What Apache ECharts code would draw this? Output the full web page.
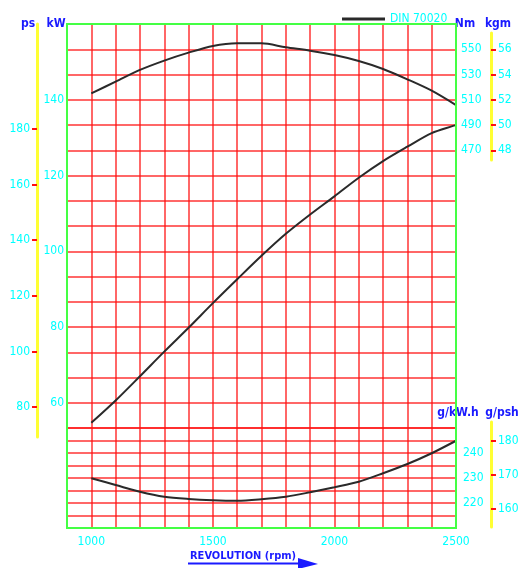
<!DOCTYPE html>
<html>
<head>
<meta charset="utf-8">
<script src="https://cdn.jsdelivr.net/npm/echarts@6/dist/echarts.min.js"></script>
<style>
html, body { margin: 0; padding: 0; background: #fff; }
#chart { width: 526px; height: 568px; }
</style>
</head>
<body>
<div id="chart"></div>
<script>
// engine speed (rpm) and the three DIN 70020 curves
var rpm = [1000, 1100, 1200, 1300, 1400, 1500, 1600, 1700, 1800, 1900, 2000, 2100, 2200, 2300, 2400, 2500];
var torqueNm = [515.1, 524.3, 533.6, 541.0, 547.3, 552.6, 554.7, 554.7, 551.5, 548.9, 545.4, 540.7, 534.4, 526.2, 517.2, 505.8];
var powerKw = [54.7, 60.6, 67.0, 73.5, 79.8, 86.3, 92.6, 98.8, 104.6, 109.7, 114.5, 119.4, 123.8, 127.6, 131.2, 133.3];
var sfcGkwh = [229.9, 227.2, 224.5, 222.5, 221.6, 221.1, 220.9, 221.5, 222.5, 224.3, 226.3, 228.5, 231.9, 235.6, 239.9, 244.9];

// tick labels
var rpmLabels = [1000, 1500, 2000, 2500];
var kwLabels = [60, 80, 100, 120, 140];
var psLabels = [80, 100, 120, 140, 160, 180];
var nmLabels = [470, 490, 510, 530, 550];
var kgmLabels = [48, 50, 52, 54, 56];
var sfcLabels = [220, 230, 240];
var gpshLabels = [160, 170, 180];

var PS_PER_KW = 1.36;

// sheet layout (px)
var L = 67, R = 456, TOP = 24, MID = 428, BOT = 528;
var CYAN = '#00ffff', BLUE = '#1a1aff', RED = '#ff1010', YELLOW = '#ffff33', GREEN = '#44ff44';
var NARROW = '"DejaVu Sans Condensed", "Liberation Sans", sans-serif';

// upper panel: 16 rows, Nm 250..570 (20/row), kW 53.3..160 (20 per 3 rows)
var nmPerPx = 320 / (MID - TOP);
var kwPerPx = (320 / 3) / (MID - TOP);
function kwAt(y) { return 160 - (y - TOP) * kwPerPx; }
function nmAt(y) { return 570 - (y - TOP) * nmPerPx; }
// lower panel: g/kWh 210..250
function sfcAt(y) { return 250 - (y - MID) * 40 / (BOT - MID); }

var chart = echarts.init(document.getElementById('chart'));

var redSplit = { show: true, lineStyle: { color: RED, width: 1.5, opacity: 0.85 } };
var numLabel = { color: CYAN, fontFamily: NARROW, fontSize: 12, formatter: function (v) { return String(v); } };

function hiddenX(gi) {
  return { type: 'value', gridIndex: gi, show: false, min: 0, max: 1 };
}

function sideAxis(gi, pos, lo, hi, labels) {
  return {
    type: 'value', gridIndex: gi, position: pos, min: lo, max: hi,
    axisLine: { show: true, onZero: false, lineStyle: { color: YELLOW, width: 3 } },
    axisTick: { show: true, length: 5, customValues: labels, lineStyle: { color: RED, width: 2 } },
    axisLabel: Object.assign({ customValues: labels, margin: 7 }, numLabel),
    splitLine: { show: false }
  };
}

function unit(text, x, y) {
  return {
    type: 'text', x: x, y: y,
    style: { text: text, fill: BLUE, font: 'bold 12px ' + NARROW, align: 'center', verticalAlign: 'middle' }
  };
}

var option = {
  animation: false,
  backgroundColor: '#fff',
  legend: {
    left: 337, top: 8,
    icon: 'rect', itemWidth: 43, itemHeight: 3,
    textStyle: { color: CYAN, fontFamily: NARROW, fontSize: 12 },
    data: ['DIN 70020']
  },
  grid: [
    { left: L, width: R - L, top: TOP, height: MID - TOP, show: false },
    { left: L, width: R - L, top: MID, height: BOT - MID, show: false },
    { left: 37, width: 1, top: TOP, height: 437 - TOP, show: false },  // ps
    { left: 490, width: 1, top: 33, height: 127, show: false },        // kgm
    { left: 490, width: 1, top: 422, height: 105, show: false },       // g/psh
    { left: L, width: R - L, top: TOP, height: BOT - TOP, show: true, z: 5,
      borderColor: GREEN, borderWidth: 2, backgroundColor: 'transparent' }
  ],
  xAxis: [
    { type: 'value', gridIndex: 0, min: 900, max: 2500, interval: 100,
      axisLine: { show: false }, axisTick: { show: false }, axisLabel: { show: false }, splitLine: redSplit },
    { type: 'value', gridIndex: 1, min: 900, max: 2500, interval: 100,
      axisLine: { show: false }, axisTick: { show: false },
      axisLabel: Object.assign({ customValues: rpmLabels, margin: 8 }, numLabel),
      splitLine: redSplit },
    hiddenX(2), hiddenX(3), hiddenX(4), hiddenX(5)
  ],
  yAxis: [
    // kW
    { type: 'value', gridIndex: 0, position: 'left', min: kwAt(MID), max: 160,
      axisLine: { show: false }, axisTick: { show: false }, splitLine: { show: false },
      axisLabel: Object.assign({ customValues: kwLabels, margin: 3 }, numLabel) },
    // Nm, carries the upper grid rows
    { type: 'value', gridIndex: 0, position: 'right', min: 250, max: 570, interval: 20,
      axisLine: { show: false }, axisTick: { show: false }, splitLine: redSplit,
      axisLabel: Object.assign({ customValues: nmLabels, margin: 5 }, numLabel) },
    // g/kWh, carries the lower grid rows
    { type: 'value', gridIndex: 1, position: 'right', min: 210, max: 250, interval: 5,
      axisLine: { show: false }, axisTick: { show: false }, splitLine: redSplit,
      axisLabel: Object.assign({ customValues: sfcLabels, margin: 7 }, numLabel) },
    sideAxis(2, 'left', kwAt(437) * PS_PER_KW, 160 * PS_PER_KW, psLabels),
    sideAxis(3, 'right', nmAt(160) / 10 + 1, nmAt(33) / 10 + 1, kgmLabels),
    sideAxis(4, 'right', sfcAt(527) / PS_PER_KW, sfcAt(422) / PS_PER_KW, gpshLabels),
    { type: 'value', gridIndex: 5, show: false, min: 0, max: 1 }
  ],
  graphic: [
    unit('ps', 28, TOP),
    unit('kW', 56, TOP),
    unit('Nm', 465, TOP),
    unit('kgm', 498, TOP),
    unit('g/kW.h', 458, 413),
    unit('g/psh', 502, 413),
    { type: 'text', x: 190, y: 556,
      style: { text: 'REVOLUTION (rpm)', fill: BLUE, font: 'bold 11px ' + NARROW, verticalAlign: 'middle' } },
    { type: 'line', shape: { x1: 188, y1: 563.5, x2: 304, y2: 563.5 }, style: { stroke: BLUE, lineWidth: 2 } },
    { type: 'polygon', shape: { points: [[298, 558], [318, 564], [298, 569]] }, style: { fill: BLUE } }
  ],
  series: [
    { name: 'DIN 70020', type: 'line', xAxisIndex: 0, yAxisIndex: 1, smooth: 0.3, symbol: 'none',
      lineStyle: { color: '#2a2a2a', width: 2 }, itemStyle: { color: '#2a2a2a' },
      data: rpm.map(function (r, i) { return [r, torqueNm[i]]; }) },
    { name: 'DIN 70020', type: 'line', xAxisIndex: 0, yAxisIndex: 0, smooth: 0.3, symbol: 'none',
      lineStyle: { color: '#2a2a2a', width: 2 }, itemStyle: { color: '#2a2a2a' },
      data: rpm.map(function (r, i) { return [r, powerKw[i]]; }) },
    { name: 'DIN 70020', type: 'line', xAxisIndex: 1, yAxisIndex: 2, smooth: 0.3, symbol: 'none',
      lineStyle: { color: '#2a2a2a', width: 2 }, itemStyle: { color: '#2a2a2a' },
      data: rpm.map(function (r, i) { return [r, sfcGkwh[i]]; }) }
  ]
};

chart.setOption(option);
</script>
</body>
</html>
